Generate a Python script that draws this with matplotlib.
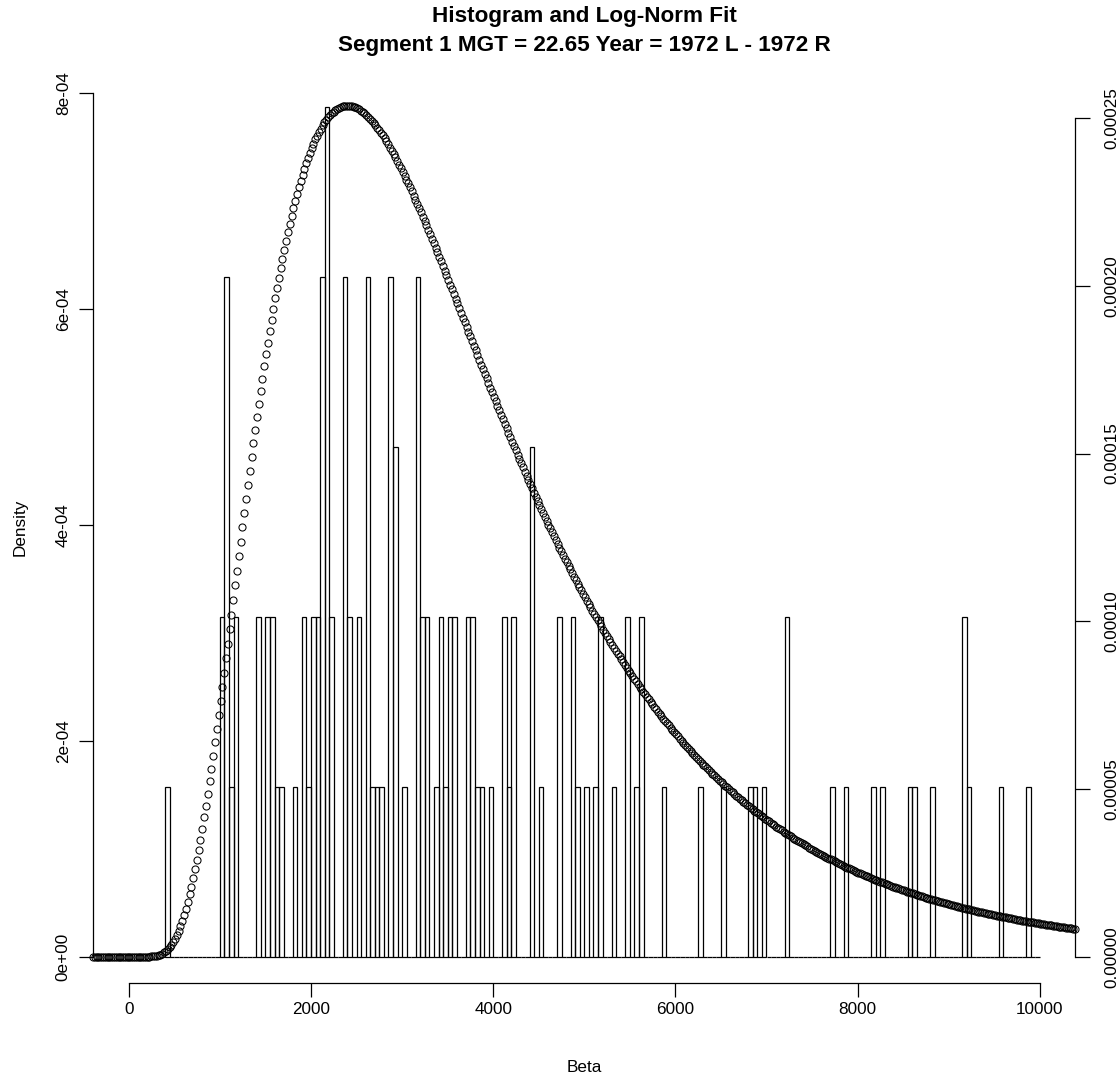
import numpy as np
import matplotlib
matplotlib.use("Agg")
import matplotlib.pyplot as plt

plt.rcParams['font.family'] = ['Liberation Sans', 'DejaVu Sans']

# ---------------- data ----------------
title = "Histogram and Log-Norm Fit\nSegment 1 MGT = 22.65 Year = 1972 L - 1972 R"
x_label = "Beta"
y_label = "Density"

bin_width = 50
bin_start = 400
bin_end = 10000
# left edges of non-empty bins and their counts
bar_lefts = [400,
             1000, 1050, 1100, 1150,
             1400,
             1500, 1550, 1600, 1650, 1800, 1900, 1950, 2000, 2050, 2100, 2150, 2200,
             2350, 2400, 2500, 2600, 2650, 2700, 2750, 2850, 2900, 3000, 3150, 3200, 3250,
             3350, 3400, 3450, 3500, 3550, 3700, 3750, 3800, 3850, 3950, 4100, 4150, 4200,
             4400, 4500, 4700, 4850, 4900, 5000, 5100, 5150,
             5300, 5450, 5550, 5600, 5850, 6250, 6500, 6800, 6850, 6950,
             7200, 7700, 7850, 8150, 8250, 8550, 8600, 8800,
             9150, 9200, 9550, 9850]
bar_counts = [1,
              2, 4, 1, 2,
              2,
              2, 2, 1, 1, 1, 2, 1, 2, 2, 4, 5, 2,
              4, 2, 2, 4, 1, 1, 1, 4, 3, 1, 4, 2, 2,
              1, 2, 1, 2, 2, 2, 2, 1, 1, 1, 2, 1, 2,
              3, 1, 2, 2, 1, 1, 1, 2,
              1, 2, 1, 2, 1, 1, 1, 1, 1, 1,
              2, 1, 1, 1, 1, 1, 1, 1,
              2, 1, 1, 1]

# log-normal fit parameters (mode ~2400, peak ~2.54e-4)
meanlog = 8.097
sdlog = 0.56
curve_x_min, curve_x_max, curve_step = -393, 10387, 20

left_ticks = [0, 2e-4, 4e-4, 6e-4, 8e-4]
left_ticklabels = ["0e+00", "2e-04", "4e-04", "6e-04", "8e-04"]
right_ticks = [0, 0.00005, 0.0001, 0.00015, 0.0002, 0.00025]
right_ticklabels = ["0.00000", "0.00005", "0.00010", "0.00015", "0.00020", "0.00025"]
x_ticks = [0, 2000, 4000, 6000, 8000, 10000]
x_ticklabels = ["0", "2000", "4000", "6000", "8000", "10000"]

# ---------------- derived ----------------
edges = np.arange(bin_start, bin_end, bin_width)
counts = np.zeros(len(edges))
for l, c in zip(bar_lefts, bar_counts):
    counts[int(round((l - bin_start) / bin_width))] = c
n_obs = counts.sum()
density = counts / (n_obs * bin_width)

cx = np.arange(curve_x_min, curve_x_max + 1, curve_step).astype(float)
cy = np.zeros_like(cx)
pos = cx > 0
cy[pos] = np.exp(-(np.log(cx[pos]) - meanlog) ** 2 / (2 * sdlog ** 2)) / (cx[pos] * sdlog * np.sqrt(2 * np.pi))

# ---------------- figure ----------------
W, H = 1119, 1076
fig = plt.figure(figsize=(W / 100, H / 100), dpi=100)

px_left, px_right = 93, 1075
px_top, px_bottom = 70.7, 983
ax = fig.add_axes([px_left / W, 1 - px_bottom / H, (px_right - px_left) / W, (px_bottom - px_top) / H])

# x scale: 0 at 128.8 px, 0.0911 px per unit
x0px, xscale = 128.8, 0.0911
ax.set_xlim((px_left - x0px) / xscale, (px_right - x0px) / xscale)
# left y: 0 at 956.7 px, 2e-4 per 215.8 px
y0px = 956.7
lscale = 2e-4 / 215.8
ax.set_ylim(-(px_bottom - y0px) * lscale, (y0px - px_top) * lscale)

ax.bar(edges, density, width=bin_width, align='edge', fill=False,
       edgecolor='black', linewidth=0.9)

for s in ['top', 'right']:
    ax.spines[s].set_visible(False)
ax.spines['left'].set_bounds(0, 8e-4)
ax.spines['bottom'].set_bounds(0, 10000)
ax.spines['left'].set_linewidth(0.9)
ax.spines['bottom'].set_linewidth(0.9)

ax.set_yticks(left_ticks)
ax.set_yticklabels(left_ticklabels, rotation=90, va='center')
ax.set_xticks(x_ticks)
ax.set_xticklabels(x_ticklabels)
ax.tick_params(axis='both', length=10, width=0.9, labelsize=12.3)
ax.tick_params(axis='x', pad=4)
ax.tick_params(axis='y', pad=6)
ax.set_xlabel(x_label, fontsize=12.3, labelpad=31)
ax.set_ylabel(y_label, fontsize=12.3, labelpad=20)
ax.set_title(title, fontsize=16.2, fontweight='bold', pad=14, linespacing=1.5)

ax2 = ax.twinx()
rscale = 5e-5 / 167.7
ax2.set_ylim(-(px_bottom - y0px) * rscale, (y0px - px_top) * rscale)
ax2.plot(cx, cy, linestyle='none', marker='o', markersize=5.1,
         markerfacecolor='none', markeredgecolor='black', markeredgewidth=0.75, clip_on=False)
for s in ['top', 'left', 'bottom']:
    ax2.spines[s].set_visible(False)
ax2.spines['right'].set_bounds(0, 0.00025)
ax2.spines['right'].set_linewidth(0.9)
ax2.set_yticks(right_ticks)
ax2.set_yticklabels(right_ticklabels, rotation=90, va='center')
ax2.tick_params(axis='y', length=11, width=0.9, labelsize=12.3, pad=10.5)

fig.savefig("out.png", dpi=100, facecolor='white')
